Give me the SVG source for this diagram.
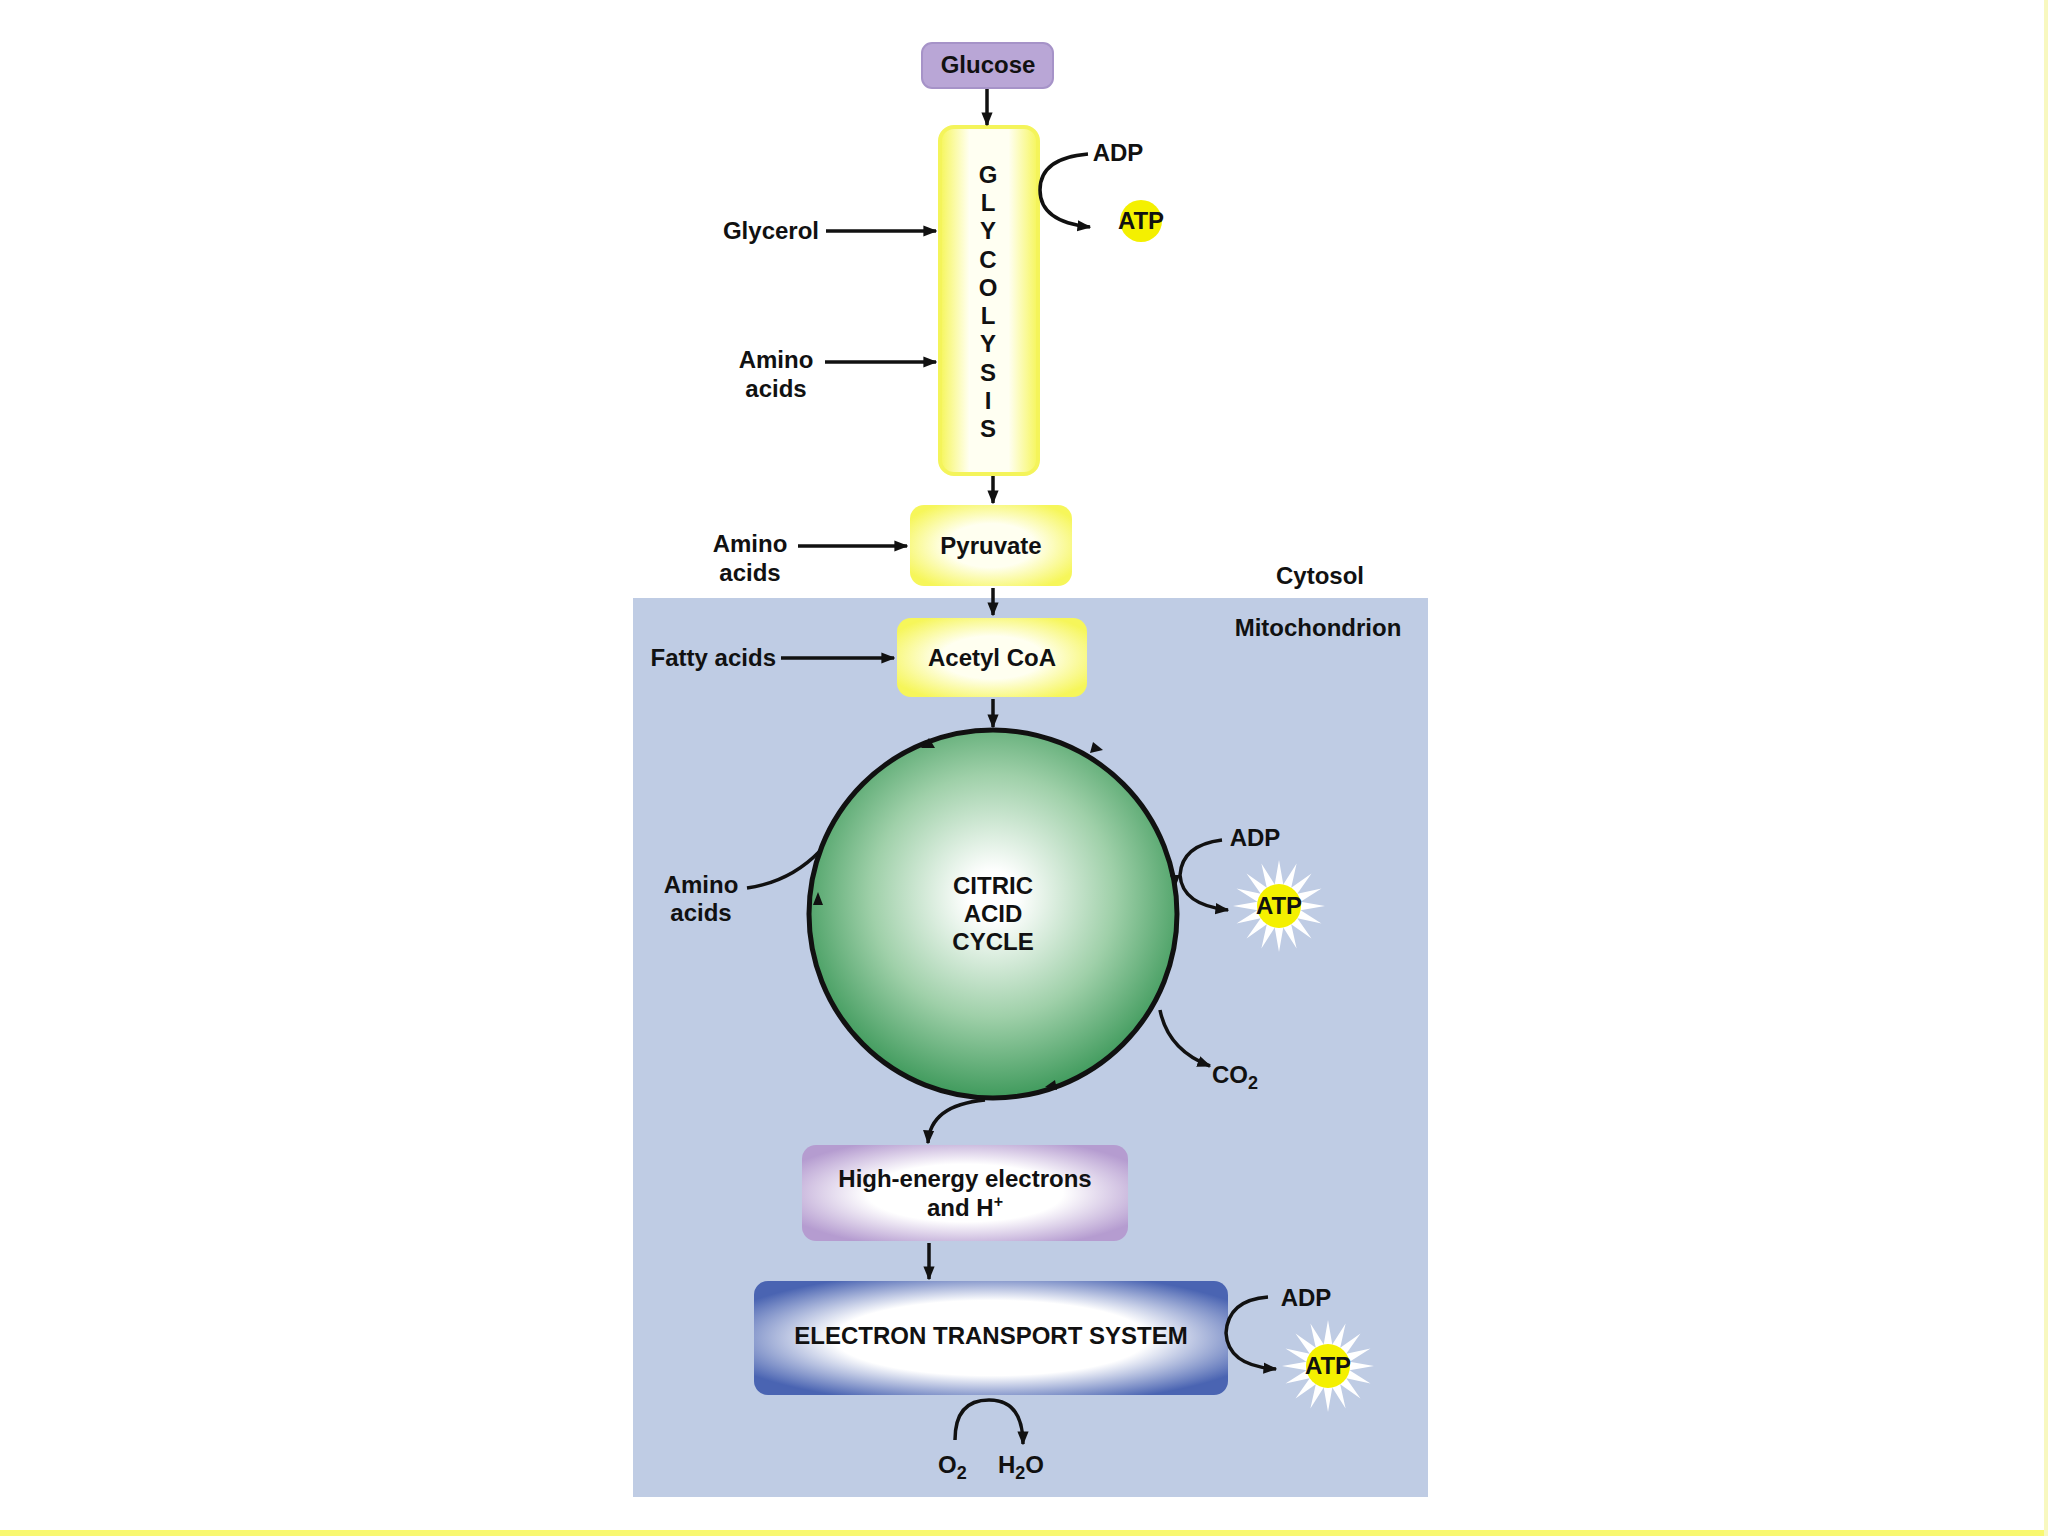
<svg xmlns="http://www.w3.org/2000/svg" width="2048" height="1536" viewBox="0 0 2048 1536">
<defs>
<style>
text{font-family:"Liberation Sans",Arial,sans-serif;font-weight:bold;font-size:24px;fill:#111}
.c{text-anchor:middle}
.ln{stroke:#111;stroke-width:3.5;fill:none}
.arr{stroke:#111;stroke-width:3.5;fill:none;marker-end:url(#ah)}
</style>
<marker id="ah" viewBox="0 0 10 10" refX="9" refY="5" markerWidth="4" markerHeight="4" orient="auto" markerUnits="strokeWidth"><path d="M0,1 L10,5 L0,9 z" fill="#111"/></marker>
<radialGradient id="yel" cx="50%" cy="50%" r="60%"><stop offset="0.45" stop-color="#fffff0"/><stop offset="1" stop-color="#f6f65a"/></radialGradient>
<linearGradient id="yelv" x1="0" x2="1" y1="0" y2="0"><stop offset="0" stop-color="#f6f65a"/><stop offset="0.3" stop-color="#fffff2"/><stop offset="0.7" stop-color="#fffff2"/><stop offset="1" stop-color="#f6f65a"/></linearGradient>
<radialGradient id="grn" cx="50%" cy="45%" r="55%"><stop offset="0.12" stop-color="#ffffff"/><stop offset="0.6" stop-color="#9fd0a9"/><stop offset="1" stop-color="#3f9a5c"/></radialGradient>
<radialGradient id="pur" cx="50%" cy="50%" r="60%"><stop offset="0.5" stop-color="#ffffff"/><stop offset="1" stop-color="#b59cd0"/></radialGradient>
<radialGradient id="blu" cx="50%" cy="50%" r="60%"><stop offset="0.55" stop-color="#ffffff"/><stop offset="1" stop-color="#4a64b2"/></radialGradient>
<g id="star"><polygon fill="#ffffff" points="46,0 21.6,4.3 42.5,17.6 18.3,12.2 32.5,32.5 12.2,18.3 17.6,42.5 4.3,21.6 0,46 -4.3,21.6 -17.6,42.5 -12.2,18.3 -32.5,32.5 -18.3,12.2 -42.5,17.6 -21.6,4.3 -46,0 -21.6,-4.3 -42.5,-17.6 -18.3,-12.2 -32.5,-32.5 -12.2,-18.3 -17.6,-42.5 -4.3,-21.6 0,-46 4.3,-21.6 17.6,-42.5 12.2,-18.3 32.5,-32.5 18.3,-12.2 42.5,-17.6 21.6,-4.3"/><circle r="22" fill="#f4f000"/></g>
</defs>
<rect width="2048" height="1536" fill="#ffffff"/>
<rect x="0" y="1530" width="2048" height="6" fill="#f8f870"/>
<rect x="2044" y="0" width="4" height="1536" fill="#f8f8c0"/>
<rect id="mito" x="633" y="598" width="795" height="899" fill="#bfcce4"/>
<text x="1320" y="584" class="c">Cytosol</text>
<text x="1318" y="636" class="c">Mitochondrion</text>

<g id="glucose"><rect x="922" y="43" width="131" height="45" rx="10" fill="#b9a6d6" stroke="#a693c8" stroke-width="2"/><text x="988" y="73" class="c">Glucose</text></g>
<g id="glycolysis"><rect x="940" y="127" width="98" height="347" rx="14" fill="url(#yelv)" stroke="#f4f45a" stroke-width="4"/>
<text class="c"><tspan x="988" y="183">G</tspan><tspan x="988" y="211">L</tspan><tspan x="988" y="239">Y</tspan><tspan x="988" y="268">C</tspan><tspan x="988" y="296">O</tspan><tspan x="988" y="324">L</tspan><tspan x="988" y="352">Y</tspan><tspan x="988" y="381">S</tspan><tspan x="988" y="409">I</tspan><tspan x="988" y="437">S</tspan></text></g>
<g id="pyruvate"><rect x="910" y="505" width="162" height="81" rx="14" fill="url(#yel)"/><text x="991" y="554" class="c">Pyruvate</text></g>
<g id="acetyl"><rect x="897" y="618" width="190" height="79" rx="14" fill="url(#yel)"/><text x="992" y="666" class="c">Acetyl CoA</text></g>
<g id="citric"><circle cx="993" cy="914" r="184" fill="url(#grn)" stroke="#111" stroke-width="5"/>
<text class="c"><tspan x="993" y="894">CITRIC</tspan><tspan x="993" y="922">ACID</tspan><tspan x="993" y="950">CYCLE</tspan></text></g>
<g id="highenergy"><rect x="802" y="1145" width="326" height="96" rx="14" fill="url(#pur)"/><text class="c"><tspan x="965" y="1187">High-energy electrons</tspan><tspan x="965" y="1216">and H<tspan dy="-9" font-size="16">+</tspan></tspan></text></g>
<g id="ets"><rect x="754" y="1281" width="474" height="114" rx="14" fill="url(#blu)"/><text x="991" y="1344" class="c">ELECTRON TRANSPORT SYSTEM</text></g>

<g id="labels">
<text x="1118" y="161" class="c">ADP</text>
<circle cx="1141" cy="221" r="21" fill="#f4f000"/><text x="1141" y="229" class="c">ATP</text>
<text x="819" y="239" text-anchor="end">Glycerol</text>
<text class="c"><tspan x="776" y="368">Amino</tspan><tspan x="776" y="397">acids</tspan></text>
<text class="c"><tspan x="750" y="552">Amino</tspan><tspan x="750" y="581">acids</tspan></text>
<text x="776" y="666" text-anchor="end">Fatty acids</text>
<text class="c"><tspan x="701" y="893">Amino</tspan><tspan x="701" y="921">acids</tspan></text>
<text x="1255" y="846" class="c">ADP</text>
<use href="#star" x="1279" y="906"/><text x="1279" y="914" class="c">ATP</text>
<text x="1212" y="1083">CO<tspan dy="6" font-size="18">2</tspan></text>
<text x="1306" y="1306" class="c">ADP</text>
<use href="#star" x="1328" y="1366"/><text x="1328" y="1374" class="c">ATP</text>
<text x="938" y="1473">O<tspan dy="6" font-size="18">2</tspan></text>
<text x="998" y="1473">H<tspan dy="6" font-size="18">2</tspan><tspan dy="-6">O</tspan></text>
</g>

<g id="connectors">
<path class="arr" d="M987,89 V125"/>
<path class="arr" d="M1088,154 Q1040,158 1040,190 Q1040,222 1090,227"/>
<path class="arr" d="M826,231 H936"/>
<path class="arr" d="M825,362 H936"/>
<path class="arr" d="M993,476 V503"/>
<path class="arr" d="M798,546 H907"/>
<path class="arr" d="M993,588 V615"/>
<path class="arr" d="M781,658 H894"/>
<path class="arr" d="M993,699 V727"/>
<path class="ln" d="M747,888 Q790,882 820,851"/>
<path class="arr" d="M1222,840 Q1182,845 1180,875 Q1182,905 1228,910"/>
<path class="arr" d="M1160,1010 Q1168,1050 1210,1066"/>
<path class="arr" d="M985,1100 Q930,1105 928,1143"/>
<path class="arr" d="M929,1243 V1279"/>
<path class="arr" d="M1268,1297 Q1228,1300 1226,1333 Q1228,1366 1276,1369"/>
<path class="arr" d="M955,1440 Q955,1400 989,1400 Q1023,1400 1023,1444"/>
<path fill="#111" d="M935,748 l-14,0 l8,-10 z M1093,742 l10,8 l-13,3 z M1170,875 l5,13 l5,-13 z M1057,1090 l-12,-3 l10,-7 z M823,905 l-5,-13 l-5,13 z"/>
</g>
</svg>
